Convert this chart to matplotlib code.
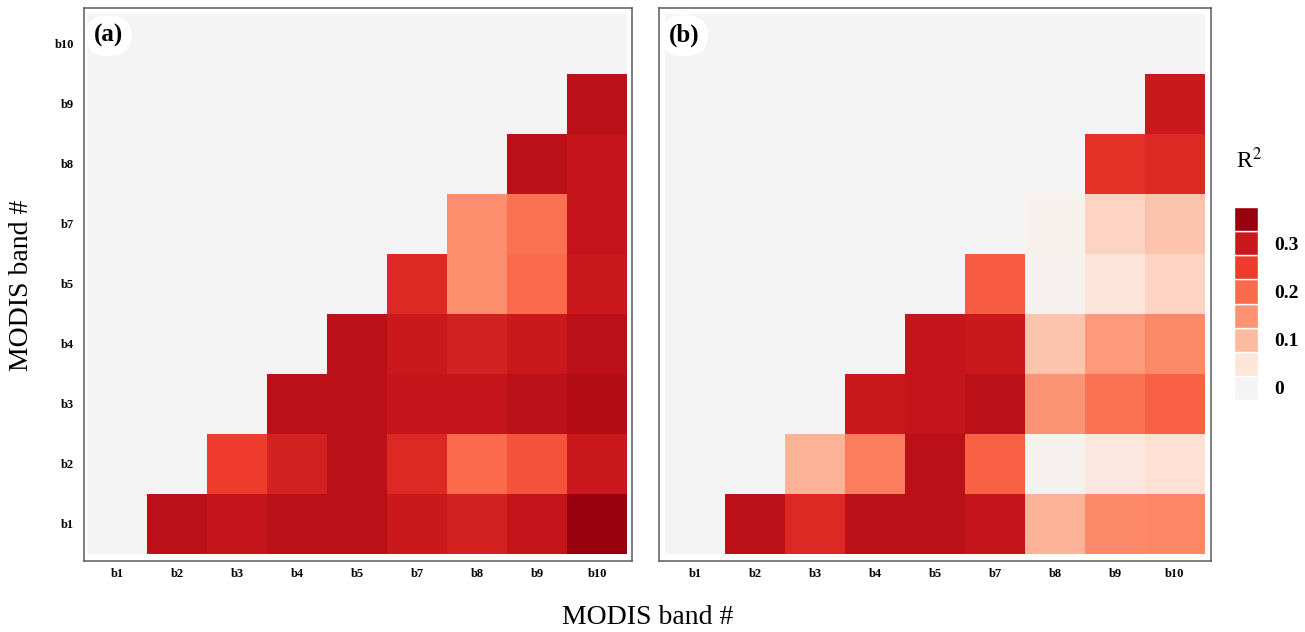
import numpy as np
import matplotlib
matplotlib.use("Agg")
import matplotlib.pyplot as plt
from matplotlib.colors import LinearSegmentedColormap

bands = ["b1", "b2", "b3", "b4", "b5", "b7", "b8", "b9", "b10"]

# R^2 values: row = y band, columns = x bands (only x > y are filled)
r2_a = {
    "b1": [0.315, 0.305, 0.315, 0.315, 0.300, 0.288, 0.305, 0.350],
    "b2": [0.250, 0.288, 0.315, 0.275, 0.200, 0.225, 0.300],
    "b3": [0.315, 0.315, 0.305, 0.305, 0.315, 0.322],
    "b4": [0.315, 0.300, 0.288, 0.300, 0.315],
    "b5": [0.275, 0.155, 0.200, 0.300],
    "b7": [0.155, 0.190, 0.305],
    "b8": [0.315, 0.305],
    "b9": [0.315],
}
r2_b = {
    "b1": [0.315, 0.275, 0.315, 0.315, 0.305, 0.110, 0.160, 0.165],
    "b2": [0.110, 0.175, 0.315, 0.210, 0.010, 0.040, 0.055],
    "b3": [0.300, 0.305, 0.315, 0.148, 0.190, 0.210],
    "b4": [0.305, 0.300, 0.090, 0.140, 0.160],
    "b5": [0.215, 0.010, 0.050, 0.070],
    "b7": [0.015, 0.070, 0.090],
    "b8": [0.265, 0.275],
    "b9": [0.300],
}

legend_levels = [0.0, 0.05, 0.10, 0.15, 0.20, 0.25, 0.30, 0.35]
legend_labels = ["0", "", "0.1", "", "0.2", "", "0.3", ""]
level_colors = ["#f4f4f4", "#fee5d9", "#fcbba1", "#fc9272", "#fb6a4a",
                "#ef3b2c", "#cb181d", "#99000d"]

cmap = LinearSegmentedColormap.from_list(
    "r2", list(zip(np.array(legend_levels) / legend_levels[-1], level_colors)))
cmap.set_bad("#f4f4f4")
vmin, vmax = legend_levels[0], legend_levels[-1]

W, H = 1305, 632
fig = plt.figure(figsize=(W / 100, H / 100), dpi=100)
serif = "Liberation Serif"


def build_matrix(d):
    n = len(bands)
    m = np.full((n, n), np.nan)
    for i, yb in enumerate(bands):
        vals = d.get(yb, [])
        for k, v in enumerate(vals):
            m[i, i + 1 + k] = v
    return m


def panel(rect, data, label, xlim, ylim, show_y):
    ax = fig.add_axes(rect)
    m = build_matrix(data)
    n = len(bands)
    ax.pcolormesh(np.arange(n + 1) - 0.5, np.arange(n + 1) - 0.5, m,
                  cmap=cmap, vmin=vmin, vmax=vmax, shading="flat")
    ax.set_xlim(*xlim)
    ax.set_ylim(*ylim)
    ax.set_xticks(range(n))
    ax.set_xticklabels(bands, fontfamily=serif, fontweight="bold", fontsize=9)
    ax.set_yticks(range(n))
    if show_y:
        ax.set_yticklabels(bands, fontfamily=serif, fontweight="bold", fontsize=9)
    else:
        ax.set_yticklabels([])
    ax.tick_params(axis="x", length=0, pad=5)
    ax.tick_params(axis="y", length=0, pad=7)
    for s in ax.spines.values():
        s.set_color("#5a5a5a")
        s.set_linewidth(1.1)
    ax.text(0.018, 0.950, label, transform=ax.transAxes, ha="left", va="center",
            fontfamily=serif, fontweight="bold", fontsize=18,
            bbox=dict(boxstyle="round,pad=0.35,rounding_size=0.9",
                      fc="white", ec="none"))
    return ax


ax_a = panel([84 / W, (H - 561) / H, 548 / W, 553 / H], r2_a, "(a)",
             (-0.55, 8.583), (-0.617, 8.6), True)
ax_b = panel([659 / W, (H - 561) / H, 552 / W, 553 / H], r2_b, "(b)",
             (-0.6, 8.6), (-0.617, 8.6), False)

fig.text(648 / W, 1 - 618 / H, "MODIS band #", ha="center", va="center",
         fontfamily=serif, fontsize=20)
fig.text(22 / W, 1 - 285 / H, "MODIS band #", ha="center", va="center",
         rotation=90, fontfamily=serif, fontsize=20)

# legend (binned colour steps)
lax = fig.add_axes([1234 / W, (H - 400) / H, 24 / W, 193 / H])
for i, (lv, col) in enumerate(zip(legend_levels, level_colors)):
    lax.bar(0, 1, bottom=i, width=1, color=col, edgecolor="white", linewidth=1.0)
lax.set_xlim(-0.5, 0.5)
lax.set_ylim(0, len(legend_levels))
lax.set_xticks([])
lax.set_yticks([i + 0.5 for i, l in enumerate(legend_labels) if l])
lax.set_yticklabels([l for l in legend_labels if l], fontfamily=serif,
                    fontweight="bold", fontsize=14)
lax.yaxis.tick_right()
lax.tick_params(length=0, pad=12)
for s in lax.spines.values():
    s.set_visible(False)
fig.text(1236 / W, 1 - 160 / H, r"R$^2$", ha="left", va="center",
         fontfamily=serif, fontsize=17, math_fontfamily="stix")

fig.savefig("out.png", dpi=100)
